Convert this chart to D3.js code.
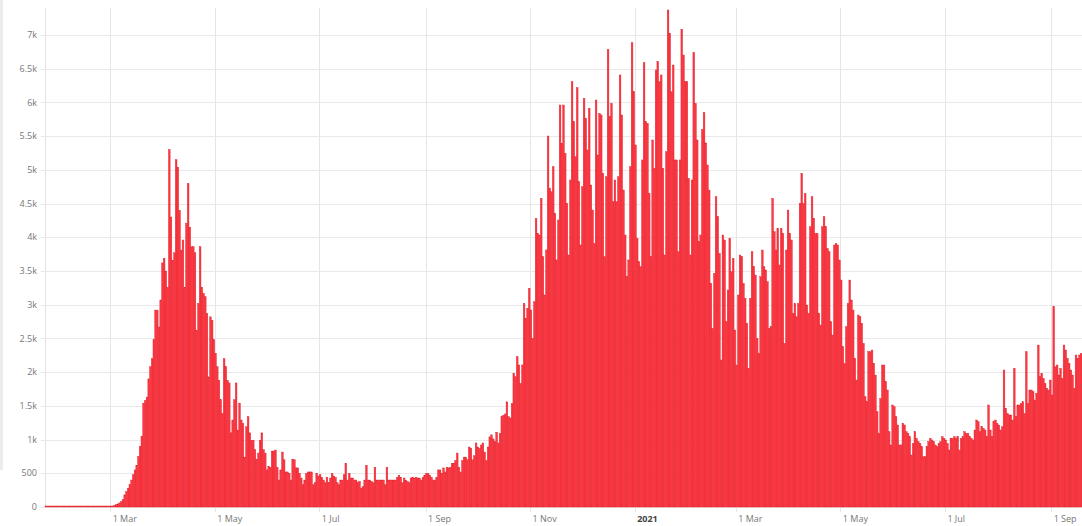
<!DOCTYPE html>
<html><head><meta charset="utf-8">
<script src="https://cdn.jsdelivr.net/npm/d3@7"></script>
<style>
body{margin:0;background:#fff;}
svg{display:block;font-family:"Open Sans","Noto Sans",sans-serif;}
</style>
</head><body>
<svg id="chart" width="1082" height="526"></svg>
<script>
// ---- data (daily values, first day = startDate) ----
const startDate = "2020-01-23";
const preOutbreak = [0,0,0,0,0,0,0,0,0,0,0,0,0,0,0,0,0,0,0,0,0,0,0,0,0,0,0,0,0,0,1,1,2,2,3,4,5,7];
const wave1 = [10,15,25,35,45,60,80,110,
 180,230,280,330,400,480,550,620,
 750,900,1050,1540,1580,1630,1900,2080,2200,2480,2920,2920,2670,3070,3620,3690,3500,3260,
 5300,
 4300,3660,3770,5150,5040,4400,3810,3960,3260,4210,4800,4150,3860,3860,3770,2620,3020,3860,3260,3170,3120,2870,1930,2820,2770,2480,2280,2080,1880,1590,1390,2200,2080,1880,1840,1100,1290,1590,1840,1140,1540,1290,1240,740,1190,1340,1100,990,990,850,700,800,990,1100,850,800,550,600];
const summer2020 = [590,830,830,845,590,400,550,815,700,520,520,500,400,700,700,580,580,500,430,
 330,400,500,520,520,520,330,360,500,460,480,440,400,360,440,360,430,500,460,440,
 360,330,400,400,480,650,400,500,430,430,400,400,360,380,280,300,400,620,400,400,
 380,360,590,400,400,400,400,400,330,590,400,400,400,400,400,440,470,440,360,430,
 400,380,360,430,440,430,440,430,430,400,440,470,500,500,470,440,400,400,440,550,
 550,500,580,520,590,580,590,650,650,690,800,590,520,690,740,740,700,890,870,700,
 760,950,890,870,920,950,815,690,890,1040,1070,1010,970,1110,950,1090,1340,1360,1380,1560,1340,1320];
const wave2 = [1538,1983,1933,2230,2107,1835,2107,
 3021,2798,2947,3243,2922,2502,3046,
 4281,4059,4034,4578,3713,3145,3812,
 5502,4726,4677,5048,4355,3664,4257,
 5962,5393,5962,5245,4504,3738,4850,
 6308,5715,5196,6219,4825,3886,4751,
 6061,5764,5295,5913,4776,4405,3911,
 6036,5220,5838,5814,4949,3713,4899,
 6787,5789,5987,4529,4850,4529,4899,
 6407,5814,4701,4034,3416,3664,5048,
 6886,6160,5369,3985,3639,3565,5147,
 6590,5715,5690,4652,3713,5443,5023,
 6481,6605,6308,6407,5023,3738,5270,
 7371,7025,6160,6555,5147,5147,3787,
 5147,7084,6703,6308,6308,4875,3738,
 4850,6738,5987,5443];
const spring2021 = [3935,4034,5600,5850,5400,5072,4700,3317,2650,3465,
 4602,4305,3762,2180,4034,3960,2748,3218,3984,3490,
 3688,2625,2106,3144,3737,3712,3317,3095,2724,2057,
 3095,3786,3564,3440,2501,2279,3416,3811,3564,3515,
 3342,2650,2674,4577,4083,3811,4132,3589,4132,4058,
 2427,3811,4404,4058,3960,2872,3020,2822,3020,4503,
 4948,4503,4651,2996,2872,4157,4602,4281,4058,4058,
 2872,2699,4157,4305,4157,3836,3786,2748,2550,3885,
 3910,3885,3663,3366,2378,2130,2674,3020,3366,3070,
 2921,2205,1883,2847,2822,2724,2427,1636,1562,2304,
 2304,2328,2130,1957,1414,1092,1611,2106,2106,1859,
 1735];
const summer2021 = [1117,920,1513,1488,1340,1216,920,920,1241,1216,
 1117,1093,1043,771,944,1117,1018,969,944,895,
 746,746,895,969,1018,994,969,920,895,944,
 969,1043,1018,994,944,845,1018,1018,1043,1018,
 1043,845,1018,1043,1117,1093,1093,1043,1018,994,
 1142,1290,1265,1117,1191,1167,1142,1043,1513,1142,
 1043,1265,1290,1241,1216,1142,1191,2032,1463,1389,
 1365,1365,1290,2056,1340,1513,1513,1537,1562,1389,
 2304,1537,1735,1735,1711,1587,1686,2402,1933,1982,
 1908,1834,1760,1735,1883,1661,2971,2081,2106,1958,
 2056,1908,2402,2328,2205,2131,2032,1958,1760,2254,
 2205,2254,2279];
const yTicks = [0,500,1000,1500,2000,2500,3000,3500,4000,4500,5000,5500,6000,6500,7000];
const yTickLabels = ["0","500","1k","1.5k","2k","2.5k","3k","3.5k","4k","4.5k","5k","5.5k","6k","6.5k","7k"];
const xTickDates = ["2020-03-01","2020-05-01","2020-07-01","2020-09-01","2020-11-01","2021-01-01","2021-03-01","2021-05-01","2021-07-01","2021-09-01"];
const xTickLabels = ["1 Mar","1 May","1 Jul","1 Sep","1 Nov","2021","1 Mar","1 May","1 Jul","1 Sep"];

// ---- build ----
const values = [].concat(preOutbreak, wave1, summer2020, wave2, spring2021, summer2021);
const parse = d3.utcParse("%Y-%m-%d");
const t0 = parse(startDate);
const data = values.map((v, i) => ({date: d3.utcDay.offset(t0, i), value: v}));

const W = 1082, H = 526;
const plotLeft = 45, plotRight = 1082, plotTop = 8, baseY = 507;
const x = d3.scaleUtc().domain([t0, d3.utcDay.offset(t0, values.length)]).range([plotLeft, plotRight]);
const y = d3.scaleLinear().domain([0, 7519]).range([baseY, 0]);

const svg = d3.select("#chart");
svg.append("rect").attr("width", W).attr("height", H).attr("fill", "#fff");
// faint strip at left edge
svg.append("rect").attr("x", 0).attr("y", 0).attr("width", 3).attr("height", 470).attr("fill", "#ececec");

// horizontal grid
const gy = svg.append("g");
gy.selectAll("line").data(yTicks).join("line")
  .attr("x1", 41).attr("x2", plotRight)
  .attr("y1", d => Math.round(y(d)) + 0.5).attr("y2", d => Math.round(y(d)) + 0.5)
  .attr("stroke", "#e9e9e9").attr("stroke-width", 1);
gy.selectAll("text").data(yTicks).join("text")
  .attr("x", 37).attr("y", d => y(d)).attr("dy", "0.35em")
  .attr("text-anchor", "end").attr("font-size", 9).attr("fill", "#777")
  .text((d, i) => yTickLabels[i]);

// vertical grid
const tickDates = xTickDates.map(parse);
const gx = svg.append("g");
gx.selectAll("line").data(tickDates).join("line")
  .attr("x1", d => Math.round(x(d)) + 0.5).attr("x2", d => Math.round(x(d)) + 0.5)
  .attr("y1", plotTop).attr("y2", baseY + 5)
  .attr("stroke", "#e6e6e6").attr("stroke-width", 1);
gx.selectAll("text").data(tickDates).join("text")
  .attr("x", d => x(d) + 2.5).attr("y", 522)
  .attr("font-size", 9)
  .attr("font-weight", (d, i) => xTickLabels[i] === "2021" ? "bold" : "normal")
  .attr("fill", (d, i) => xTickLabels[i] === "2021" ? "#444" : "#777")
  .text((d, i) => xTickLabels[i]);

// left axis line
svg.append("line").attr("x1", plotLeft + 0.5).attr("x2", plotLeft + 0.5)
  .attr("y1", plotTop).attr("y2", baseY).attr("stroke", "#e3e3e3");

// bars (minimum visible height so zero days show as a thin baseline)
svg.append("g").selectAll("rect").data(data).join("rect")
  .attr("x", d => x(d.date))
  .attr("width", d => x(d3.utcDay.offset(d.date, 1)) - x(d.date))
  .attr("y", d => Math.min(y(d.value), baseY - 1))
  .attr("height", d => Math.max(baseY - y(d.value), 1))
  .attr("fill", "#ff3640")
  .attr("stroke", "#dc2430")
  .attr("stroke-width", 0.4);
</script>
</body></html>
